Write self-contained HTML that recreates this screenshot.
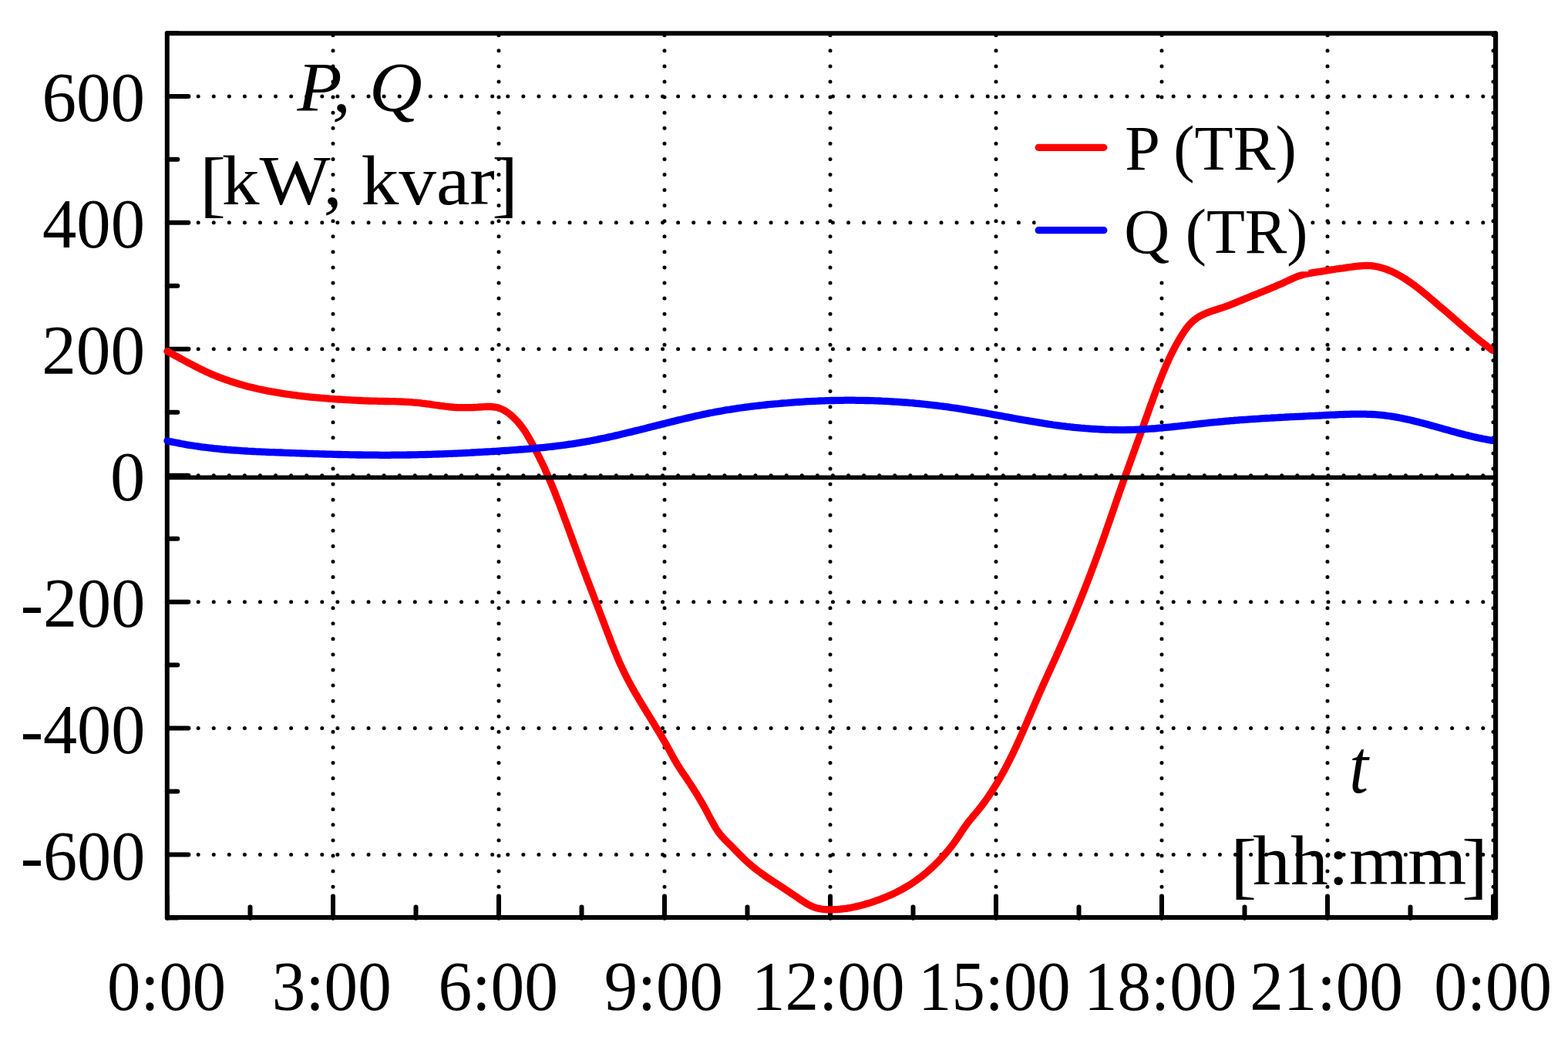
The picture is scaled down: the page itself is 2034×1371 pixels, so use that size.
<!DOCTYPE html>
<html lang="en"><head><meta charset="utf-8"><title>P, Q (TR) daily profile</title>
<style>html,body{margin:0;padding:0;background:#fff;overflow:hidden}svg{display:block}text{font-family:"Liberation Serif","DejaVu Serif",serif;fill:#000}</style>
</head><body>
<svg width="2034" height="1371" viewBox="0 0 2034 1371">
<rect x="0" y="0" width="2034" height="1371" fill="#fff"/>
<g stroke="#000" stroke-width="5.00" stroke-linecap="round" stroke-dasharray="0 20.08" fill="none">
<line x1="217.00" y1="124.88" x2="1936.00" y2="124.88"/>
<line x1="217.00" y1="288.82" x2="1936.00" y2="288.82"/>
<line x1="217.00" y1="452.76" x2="1936.00" y2="452.76"/>
<line x1="217.00" y1="616.70" x2="1936.00" y2="616.70"/>
<line x1="217.00" y1="780.64" x2="1936.00" y2="780.64"/>
<line x1="217.00" y1="944.58" x2="1936.00" y2="944.58"/>
<line x1="217.00" y1="1108.52" x2="1936.00" y2="1108.52"/>
<line x1="432.00" y1="1190.30" x2="432.00" y2="44.00"/>
<line x1="647.00" y1="1190.30" x2="647.00" y2="44.00"/>
<line x1="862.00" y1="1190.30" x2="862.00" y2="44.00"/>
<line x1="1077.00" y1="1190.30" x2="1077.00" y2="44.00"/>
<line x1="1292.01" y1="1190.30" x2="1292.01" y2="44.00"/>
<line x1="1507.01" y1="1190.30" x2="1507.01" y2="44.00"/>
<line x1="1722.01" y1="1190.30" x2="1722.01" y2="44.00"/>
<line x1="1937.01" y1="1190.30" x2="1937.01" y2="44.00"/>
</g>
<g stroke="#000" stroke-width="6.00" stroke-linecap="round" stroke-linejoin="round" fill="none">
<path d="M216.80 43.30 L1940.10 43.30 L1940.10 1190.10 L216.80 1190.10 Z"/>
<line x1="216.80" y1="1190.49" x2="230.30" y2="1190.49"/>
<line x1="216.80" y1="1108.52" x2="244.40" y2="1108.52"/>
<line x1="216.80" y1="1026.55" x2="230.30" y2="1026.55"/>
<line x1="216.80" y1="944.58" x2="244.40" y2="944.58"/>
<line x1="216.80" y1="862.61" x2="230.30" y2="862.61"/>
<line x1="216.80" y1="780.64" x2="244.40" y2="780.64"/>
<line x1="216.80" y1="698.67" x2="230.30" y2="698.67"/>
<line x1="216.80" y1="616.70" x2="244.40" y2="616.70"/>
<line x1="216.80" y1="534.73" x2="230.30" y2="534.73"/>
<line x1="216.80" y1="452.76" x2="244.40" y2="452.76"/>
<line x1="216.80" y1="370.79" x2="230.30" y2="370.79"/>
<line x1="216.80" y1="288.82" x2="244.40" y2="288.82"/>
<line x1="216.80" y1="206.85" x2="230.30" y2="206.85"/>
<line x1="216.80" y1="124.88" x2="244.40" y2="124.88"/>
<line x1="216.80" y1="42.91" x2="230.30" y2="42.91"/>
<line x1="217.00" y1="1190.70" x2="217.00" y2="1162.50"/>
<line x1="324.50" y1="1190.70" x2="324.50" y2="1176.60"/>
<line x1="432.00" y1="1190.70" x2="432.00" y2="1162.50"/>
<line x1="539.50" y1="1190.70" x2="539.50" y2="1176.60"/>
<line x1="647.00" y1="1190.70" x2="647.00" y2="1162.50"/>
<line x1="754.50" y1="1190.70" x2="754.50" y2="1176.60"/>
<line x1="862.00" y1="1190.70" x2="862.00" y2="1162.50"/>
<line x1="969.50" y1="1190.70" x2="969.50" y2="1176.60"/>
<line x1="1077.00" y1="1190.70" x2="1077.00" y2="1162.50"/>
<line x1="1184.50" y1="1190.70" x2="1184.50" y2="1176.60"/>
<line x1="1292.01" y1="1190.70" x2="1292.01" y2="1162.50"/>
<line x1="1399.51" y1="1190.70" x2="1399.51" y2="1176.60"/>
<line x1="1507.01" y1="1190.70" x2="1507.01" y2="1162.50"/>
<line x1="1614.51" y1="1190.70" x2="1614.51" y2="1176.60"/>
<line x1="1722.01" y1="1190.70" x2="1722.01" y2="1162.50"/>
<line x1="1829.51" y1="1190.70" x2="1829.51" y2="1176.60"/>
<line x1="1937.01" y1="1190.70" x2="1937.01" y2="1162.50"/>
</g>
<g fill="none" stroke-width="9.30" stroke-linecap="round" stroke-linejoin="round">
<path stroke="#ff0000" d="M217.0 455.7 L219.6 457.1 L222.1 458.5 L224.7 459.9 L227.3 461.3 L229.9 462.7 L232.6 464.1 L235.2 465.6 L237.8 467.0 L240.5 468.5 L243.1 469.9 L245.8 471.3 L248.5 472.7 L251.2 474.1 L253.9 475.5 L256.6 476.9 L259.3 478.2 L262.1 479.6 L264.8 480.9 L267.5 482.2 L270.3 483.4 L273.1 484.7 L275.8 485.9 L278.6 487.0 L281.4 488.2 L284.2 489.3 L287.0 490.3 L289.8 491.4 L292.6 492.4 L295.5 493.4 L298.3 494.4 L301.1 495.3 L304.0 496.2 L306.8 497.1 L309.7 497.9 L312.6 498.8 L315.4 499.6 L318.3 500.4 L321.2 501.2 L324.1 501.9 L327.0 502.6 L329.9 503.3 L332.8 504.0 L335.7 504.7 L338.6 505.3 L341.5 505.9 L344.5 506.5 L347.4 507.1 L350.3 507.6 L353.3 508.2 L356.2 508.7 L359.2 509.2 L362.1 509.7 L365.1 510.2 L368.1 510.7 L371.0 511.1 L374.0 511.5 L377.0 511.9 L379.9 512.3 L382.9 512.7 L385.9 513.1 L388.9 513.5 L391.8 513.8 L394.8 514.1 L397.8 514.5 L400.8 514.8 L403.8 515.1 L406.8 515.4 L409.8 515.7 L412.8 515.9 L415.8 516.2 L418.8 516.4 L421.8 516.7 L424.8 516.9 L427.8 517.2 L430.8 517.4 L433.8 517.6 L436.8 517.8 L439.8 518.0 L442.8 518.2 L445.8 518.4 L448.8 518.6 L451.8 518.7 L454.8 518.9 L457.8 519.1 L460.8 519.2 L463.8 519.4 L466.8 519.5 L469.8 519.6 L472.8 519.8 L475.8 519.9 L478.8 520.0 L481.8 520.1 L484.8 520.1 L487.8 520.2 L490.8 520.3 L493.8 520.4 L496.8 520.4 L499.8 520.5 L502.8 520.5 L505.8 520.6 L508.7 520.6 L511.7 520.7 L514.7 520.8 L517.7 520.9 L520.7 521.0 L523.7 521.1 L526.7 521.3 L529.6 521.4 L532.6 521.6 L535.6 521.9 L538.6 522.1 L541.5 522.4 L544.5 522.7 L547.5 523.1 L550.5 523.4 L553.4 523.8 L556.4 524.2 L559.4 524.7 L562.3 525.1 L565.3 525.5 L568.3 525.9 L571.3 526.3 L574.3 526.7 L577.2 527.1 L580.2 527.4 L583.2 527.8 L586.2 528.0 L589.2 528.3 L592.3 528.5 L595.3 528.6 L598.3 528.7 L601.4 528.7 L604.4 528.7 L607.4 528.7 L610.5 528.6 L613.5 528.5 L616.5 528.3 L619.5 528.2 L622.5 528.0 L625.5 527.8 L628.5 527.6 L631.4 527.5 L634.3 527.5 L637.2 527.5 L640.1 527.8 L642.9 528.2 L645.7 528.8 L648.5 529.7 L651.2 530.8 L653.9 532.2 L656.5 533.8 L659.0 535.5 L661.5 537.4 L663.9 539.4 L666.1 541.5 L668.3 543.7 L670.4 545.9 L672.4 548.1 L674.4 550.4 L676.2 552.8 L678.0 555.2 L679.7 557.6 L681.3 560.1 L682.9 562.5 L684.4 565.1 L685.9 567.6 L687.4 570.2 L688.8 572.8 L690.3 575.4 L691.7 578.0 L693.1 580.7 L694.5 583.3 L695.9 586.0 L697.3 588.7 L698.7 591.4 L700.0 594.2 L701.4 596.9 L702.7 599.6 L704.0 602.4 L705.3 605.1 L706.6 607.8 L707.8 610.6 L709.0 613.3 L710.2 616.1 L711.4 618.8 L712.6 621.6 L713.8 624.3 L715.0 627.1 L716.1 629.9 L717.2 632.6 L718.3 635.4 L719.5 638.2 L720.6 640.9 L721.6 643.7 L722.7 646.5 L723.8 649.3 L724.9 652.0 L725.9 654.8 L727.0 657.6 L728.0 660.4 L729.1 663.2 L730.1 666.0 L731.1 668.8 L732.2 671.6 L733.2 674.3 L734.3 677.1 L735.3 679.9 L736.3 682.7 L737.3 685.5 L738.4 688.3 L739.4 691.2 L740.4 694.0 L741.5 696.8 L742.5 699.6 L743.5 702.4 L744.5 705.2 L745.6 708.0 L746.6 710.8 L747.6 713.6 L748.7 716.5 L749.7 719.3 L750.8 722.1 L751.8 724.9 L752.8 727.7 L753.9 730.6 L754.9 733.4 L756.0 736.2 L757.1 739.1 L758.1 741.9 L759.2 744.7 L760.3 747.5 L761.3 750.4 L762.4 753.2 L763.5 756.0 L764.6 758.9 L765.6 761.7 L766.7 764.5 L767.8 767.3 L768.9 770.2 L770.0 773.0 L771.0 775.8 L772.1 778.7 L773.2 781.5 L774.3 784.3 L775.4 787.1 L776.5 789.9 L777.5 792.8 L778.6 795.6 L779.7 798.4 L780.8 801.2 L781.8 804.0 L782.9 806.8 L784.0 809.6 L785.0 812.4 L786.1 815.2 L787.1 818.0 L788.2 820.8 L789.3 823.5 L790.3 826.3 L791.4 829.1 L792.4 831.9 L793.5 834.6 L794.6 837.4 L795.7 840.1 L796.8 842.9 L797.9 845.6 L799.1 848.4 L800.2 851.1 L801.4 853.8 L802.5 856.6 L803.7 859.3 L804.9 862.0 L806.2 864.7 L807.4 867.4 L808.7 870.1 L810.0 872.7 L811.3 875.4 L812.7 878.1 L814.0 880.8 L815.4 883.4 L816.9 886.1 L818.3 888.7 L819.8 891.3 L821.2 894.0 L822.7 896.6 L824.2 899.2 L825.8 901.8 L827.3 904.4 L828.8 907.0 L830.4 909.6 L832.0 912.2 L833.5 914.8 L835.1 917.4 L836.7 920.0 L838.3 922.6 L839.9 925.2 L841.5 927.7 L843.0 930.3 L844.6 932.9 L846.2 935.5 L847.8 938.0 L849.4 940.6 L850.9 943.2 L852.5 945.8 L854.0 948.3 L855.6 950.9 L857.1 953.5 L858.6 956.0 L860.1 958.6 L861.6 961.2 L863.1 963.7 L864.5 966.3 L865.9 968.9 L867.4 971.5 L868.8 974.0 L870.2 976.6 L871.6 979.2 L873.0 981.8 L874.4 984.4 L875.9 986.9 L877.4 989.5 L879.0 992.1 L880.6 994.6 L882.2 997.2 L883.9 999.8 L885.6 1002.3 L887.4 1004.9 L889.1 1007.4 L890.8 1009.9 L892.5 1012.5 L894.2 1015.0 L895.9 1017.5 L897.5 1020.0 L899.1 1022.5 L900.7 1025.1 L902.3 1027.6 L903.9 1030.1 L905.4 1032.6 L906.9 1035.2 L908.4 1037.7 L909.9 1040.3 L911.4 1042.8 L912.8 1045.4 L914.3 1048.0 L915.7 1050.6 L917.1 1053.2 L918.5 1055.9 L919.9 1058.6 L921.3 1061.2 L922.8 1063.9 L924.2 1066.6 L925.7 1069.3 L927.2 1071.9 L928.7 1074.5 L930.4 1077.0 L932.1 1079.5 L933.9 1081.9 L935.8 1084.2 L937.8 1086.4 L939.8 1088.5 L941.9 1090.6 L944.0 1092.7 L946.1 1094.8 L948.3 1096.9 L950.4 1099.1 L952.5 1101.2 L954.5 1103.4 L956.6 1105.5 L958.7 1107.7 L960.9 1109.8 L963.0 1111.9 L965.1 1114.0 L967.3 1116.1 L969.5 1118.1 L971.7 1120.1 L974.0 1122.1 L976.3 1124.0 L978.6 1125.9 L981.0 1127.8 L983.4 1129.6 L985.8 1131.4 L988.2 1133.2 L990.7 1134.9 L993.1 1136.6 L995.6 1138.3 L998.1 1140.0 L1000.6 1141.6 L1003.1 1143.3 L1005.6 1144.9 L1008.1 1146.6 L1010.6 1148.2 L1013.1 1149.8 L1015.6 1151.5 L1018.1 1153.1 L1020.6 1154.8 L1023.0 1156.4 L1025.5 1158.1 L1028.0 1159.8 L1030.5 1161.5 L1033.0 1163.2 L1035.5 1164.9 L1038.0 1166.6 L1040.5 1168.3 L1043.1 1169.9 L1045.6 1171.6 L1048.3 1173.1 L1050.9 1174.5 L1053.7 1175.8 L1056.4 1176.9 L1059.2 1177.7 L1062.1 1178.4 L1065.0 1179.0 L1067.9 1179.4 L1070.9 1179.6 L1073.9 1179.8 L1076.8 1179.8 L1079.8 1179.8 L1082.8 1179.7 L1085.8 1179.6 L1088.8 1179.3 L1091.7 1179.0 L1094.7 1178.7 L1097.7 1178.3 L1100.6 1177.8 L1103.6 1177.3 L1106.6 1176.7 L1109.5 1176.1 L1112.5 1175.4 L1115.4 1174.7 L1118.3 1174.0 L1121.2 1173.2 L1124.1 1172.3 L1127.0 1171.5 L1129.9 1170.6 L1132.8 1169.6 L1135.6 1168.6 L1138.5 1167.6 L1141.3 1166.6 L1144.1 1165.5 L1146.9 1164.4 L1149.7 1163.3 L1152.5 1162.1 L1155.2 1160.9 L1157.9 1159.7 L1160.6 1158.4 L1163.3 1157.1 L1166.0 1155.7 L1168.6 1154.3 L1171.2 1152.9 L1173.8 1151.4 L1176.4 1149.9 L1178.9 1148.4 L1181.4 1146.8 L1183.9 1145.2 L1186.4 1143.5 L1188.8 1141.8 L1191.2 1140.0 L1193.6 1138.3 L1196.0 1136.4 L1198.3 1134.6 L1200.6 1132.7 L1202.9 1130.7 L1205.1 1128.7 L1207.4 1126.7 L1209.6 1124.7 L1211.8 1122.6 L1213.9 1120.5 L1216.1 1118.4 L1218.2 1116.2 L1220.3 1114.0 L1222.4 1111.8 L1224.4 1109.5 L1226.4 1107.2 L1228.4 1104.9 L1230.3 1102.6 L1232.2 1100.3 L1234.1 1097.9 L1235.9 1095.5 L1237.7 1093.1 L1239.4 1090.6 L1241.1 1088.2 L1242.8 1085.7 L1244.4 1083.3 L1246.1 1080.8 L1247.7 1078.3 L1249.3 1075.9 L1251.0 1073.4 L1252.7 1071.0 L1254.4 1068.6 L1256.2 1066.2 L1258.1 1063.9 L1260.0 1061.6 L1261.9 1059.3 L1263.8 1057.0 L1265.8 1054.7 L1267.7 1052.4 L1269.6 1050.1 L1271.4 1047.7 L1273.3 1045.4 L1275.1 1043.0 L1276.9 1040.5 L1278.6 1038.1 L1280.4 1035.6 L1282.1 1033.2 L1283.8 1030.7 L1285.5 1028.2 L1287.1 1025.6 L1288.7 1023.1 L1290.3 1020.6 L1291.9 1018.0 L1293.5 1015.4 L1295.0 1012.8 L1296.5 1010.3 L1298.0 1007.7 L1299.5 1005.0 L1300.9 1002.4 L1302.4 999.8 L1303.8 997.2 L1305.2 994.5 L1306.6 991.9 L1307.9 989.2 L1309.3 986.5 L1310.6 983.9 L1312.0 981.2 L1313.3 978.5 L1314.6 975.8 L1315.8 973.1 L1317.1 970.4 L1318.4 967.7 L1319.6 965.0 L1320.9 962.3 L1322.1 959.6 L1323.3 956.8 L1324.6 954.1 L1325.8 951.4 L1327.0 948.6 L1328.2 945.9 L1329.4 943.2 L1330.6 940.4 L1331.8 937.7 L1332.9 934.9 L1334.1 932.2 L1335.3 929.4 L1336.5 926.6 L1337.7 923.9 L1338.9 921.1 L1340.0 918.4 L1341.2 915.6 L1342.4 912.9 L1343.6 910.1 L1344.8 907.3 L1346.0 904.6 L1347.2 901.8 L1348.4 899.1 L1349.6 896.3 L1350.9 893.6 L1352.1 890.8 L1353.3 888.1 L1354.6 885.3 L1355.8 882.6 L1357.1 879.8 L1358.3 877.1 L1359.6 874.3 L1360.8 871.6 L1362.1 868.9 L1363.3 866.1 L1364.6 863.4 L1365.8 860.6 L1367.1 857.9 L1368.3 855.1 L1369.6 852.4 L1370.8 849.7 L1372.0 846.9 L1373.3 844.2 L1374.5 841.4 L1375.7 838.7 L1376.9 835.9 L1378.1 833.2 L1379.4 830.5 L1380.6 827.7 L1381.8 825.0 L1382.9 822.2 L1384.1 819.5 L1385.3 816.7 L1386.5 814.0 L1387.7 811.2 L1388.8 808.5 L1390.0 805.7 L1391.2 803.0 L1392.3 800.2 L1393.5 797.4 L1394.6 794.7 L1395.7 791.9 L1396.9 789.2 L1398.0 786.4 L1399.1 783.6 L1400.3 780.8 L1401.4 778.1 L1402.5 775.3 L1403.6 772.5 L1404.7 769.7 L1405.8 767.0 L1406.9 764.2 L1408.0 761.4 L1409.1 758.6 L1410.2 755.8 L1411.2 753.0 L1412.3 750.2 L1413.4 747.4 L1414.5 744.6 L1415.5 741.8 L1416.6 739.0 L1417.6 736.2 L1418.7 733.4 L1419.7 730.6 L1420.8 727.8 L1421.8 725.0 L1422.8 722.2 L1423.9 719.3 L1424.9 716.5 L1425.9 713.7 L1426.9 710.9 L1428.0 708.1 L1429.0 705.3 L1430.0 702.4 L1431.0 699.6 L1432.0 696.8 L1433.0 694.0 L1434.0 691.1 L1434.9 688.3 L1435.9 685.5 L1436.9 682.6 L1437.9 679.8 L1438.9 677.0 L1439.9 674.2 L1440.8 671.3 L1441.8 668.5 L1442.8 665.7 L1443.8 662.8 L1444.8 660.0 L1445.7 657.2 L1446.7 654.3 L1447.7 651.5 L1448.7 648.6 L1449.7 645.8 L1450.6 643.0 L1451.6 640.1 L1452.6 637.3 L1453.6 634.5 L1454.6 631.6 L1455.6 628.8 L1456.6 626.0 L1457.6 623.1 L1458.6 620.3 L1459.6 617.4 L1460.6 614.6 L1461.7 611.8 L1462.7 608.9 L1463.7 606.1 L1464.7 603.3 L1465.7 600.4 L1466.8 597.6 L1467.8 594.8 L1468.8 591.9 L1469.8 589.1 L1470.9 586.3 L1471.9 583.4 L1472.9 580.6 L1473.9 577.8 L1475.0 574.9 L1476.0 572.1 L1477.0 569.3 L1478.0 566.5 L1479.1 563.6 L1480.1 560.8 L1481.1 558.0 L1482.1 555.2 L1483.1 552.3 L1484.1 549.5 L1485.1 546.7 L1486.1 543.9 L1487.1 541.1 L1488.1 538.3 L1489.1 535.4 L1490.1 532.6 L1491.1 529.8 L1492.1 527.0 L1493.1 524.2 L1494.2 521.4 L1495.2 518.6 L1496.2 515.8 L1497.2 513.0 L1498.3 510.2 L1499.3 507.4 L1500.4 504.6 L1501.4 501.8 L1502.5 499.0 L1503.6 496.3 L1504.7 493.5 L1505.8 490.7 L1506.9 487.9 L1508.0 485.1 L1509.1 482.4 L1510.3 479.6 L1511.5 476.8 L1512.6 474.1 L1513.9 471.3 L1515.1 468.6 L1516.3 465.8 L1517.6 463.1 L1518.9 460.4 L1520.2 457.7 L1521.6 455.0 L1523.0 452.3 L1524.4 449.6 L1525.8 447.0 L1527.3 444.4 L1528.8 441.8 L1530.3 439.2 L1531.9 436.6 L1533.5 434.0 L1535.1 431.5 L1536.8 429.0 L1538.6 426.5 L1540.4 424.1 L1542.3 421.8 L1544.3 419.6 L1546.4 417.5 L1548.6 415.5 L1551.0 413.7 L1553.4 412.0 L1556.0 410.4 L1558.6 409.0 L1561.3 407.7 L1564.0 406.5 L1566.7 405.4 L1569.4 404.4 L1572.2 403.4 L1575.0 402.5 L1577.8 401.6 L1580.6 400.7 L1583.4 399.8 L1586.2 398.9 L1589.1 397.9 L1591.9 396.9 L1594.8 395.8 L1597.6 394.7 L1600.4 393.6 L1603.3 392.4 L1606.1 391.2 L1608.9 390.1 L1611.8 388.9 L1614.6 387.7 L1617.4 386.6 L1620.2 385.4 L1622.9 384.3 L1625.7 383.2 L1628.5 382.1 L1631.2 381.0 L1634.0 379.8 L1636.7 378.7 L1639.4 377.6 L1642.2 376.5 L1644.9 375.4 L1647.6 374.3 L1650.4 373.1 L1653.1 372.0 L1655.8 370.8 L1658.6 369.6 L1661.3 368.4 L1664.1 367.2 L1666.8 365.9 L1669.6 364.6 L1672.4 363.3 L1675.2 362.0 L1678.0 360.7 L1680.8 359.5 L1683.6 358.4 L1686.5 357.5 L1689.3 356.6 L1692.2 355.8 L1695.0 355.2 L1697.9 354.6 L1700.8 354.1 L1703.7 353.6 L1706.6 353.2 L1709.5 352.7 L1712.4 352.3 L1715.4 351.8 L1718.3 351.3 L1721.3 350.8 L1724.2 350.4 L1727.2 349.9 L1730.2 349.5 L1733.2 349.0 L1736.2 348.6 L1739.2 348.2 L1742.2 347.8 L1745.2 347.3 L1748.2 346.9 L1751.3 346.5 L1754.3 346.1 L1757.3 345.7 L1760.3 345.3 L1763.3 345.0 L1766.3 344.8 L1769.3 344.6 L1772.3 344.5 L1775.2 344.6 L1778.2 344.7 L1781.1 345.0 L1784.0 345.5 L1786.9 346.0 L1789.8 346.7 L1792.7 347.5 L1795.6 348.4 L1798.4 349.3 L1801.2 350.4 L1804.0 351.6 L1806.7 352.8 L1809.5 354.2 L1812.2 355.6 L1814.8 357.0 L1817.5 358.5 L1820.1 360.1 L1822.7 361.7 L1825.2 363.4 L1827.7 365.1 L1830.2 366.8 L1832.6 368.5 L1835.0 370.3 L1837.4 372.1 L1839.7 373.9 L1842.0 375.7 L1844.3 377.6 L1846.6 379.4 L1848.8 381.3 L1851.1 383.2 L1853.3 385.1 L1855.6 387.0 L1857.9 388.9 L1860.1 390.8 L1862.4 392.8 L1864.7 394.7 L1867.0 396.7 L1869.3 398.7 L1871.6 400.6 L1873.9 402.6 L1876.2 404.6 L1878.5 406.6 L1880.9 408.6 L1883.2 410.5 L1885.4 412.5 L1887.7 414.5 L1890.0 416.5 L1892.3 418.5 L1894.6 420.5 L1896.8 422.5 L1899.1 424.4 L1901.3 426.4 L1903.6 428.3 L1905.9 430.3 L1908.2 432.2 L1910.4 434.2 L1912.7 436.1 L1915.0 438.0 L1917.3 439.9 L1919.7 441.8 L1922.0 443.6 L1924.3 445.5 L1926.7 447.3 L1929.1 449.1 L1931.5 450.9 L1933.9 452.7 L1936.0 454.3"/>
<path stroke="#0000ff" d="M217.0 571.8 L220.0 572.5 L223.0 573.1 L226.0 573.7 L229.0 574.3 L232.0 574.9 L235.0 575.5 L238.0 576.0 L241.0 576.6 L244.0 577.1 L247.0 577.6 L250.0 578.0 L253.0 578.5 L256.0 578.9 L259.0 579.3 L262.0 579.8 L265.0 580.1 L268.0 580.5 L271.0 580.9 L274.0 581.2 L277.0 581.6 L280.0 581.9 L283.0 582.2 L286.0 582.5 L289.0 582.8 L292.0 583.0 L295.0 583.3 L298.0 583.5 L301.0 583.8 L304.0 584.0 L307.0 584.2 L310.0 584.4 L313.0 584.6 L316.0 584.8 L319.0 585.0 L322.0 585.2 L325.0 585.3 L328.0 585.5 L331.0 585.7 L334.0 585.8 L337.0 585.9 L340.0 586.1 L343.0 586.2 L346.0 586.3 L349.0 586.5 L352.0 586.6 L355.0 586.7 L358.0 586.8 L361.0 586.9 L364.0 587.0 L367.0 587.1 L370.0 587.3 L373.0 587.4 L376.0 587.5 L379.0 587.6 L382.0 587.7 L385.0 587.8 L388.0 587.9 L391.0 588.0 L394.0 588.1 L397.0 588.2 L400.0 588.3 L403.0 588.4 L406.0 588.5 L409.0 588.6 L412.0 588.7 L415.0 588.8 L418.0 588.9 L421.0 589.0 L424.0 589.1 L427.0 589.1 L430.0 589.2 L433.0 589.3 L436.0 589.4 L439.0 589.5 L442.0 589.5 L445.0 589.6 L448.0 589.7 L451.0 589.7 L454.0 589.8 L457.0 589.9 L460.0 589.9 L463.0 590.0 L466.0 590.0 L469.0 590.0 L472.0 590.1 L475.0 590.1 L478.0 590.2 L481.0 590.2 L484.0 590.2 L487.0 590.2 L490.0 590.2 L493.0 590.3 L496.0 590.3 L499.0 590.3 L502.0 590.3 L505.0 590.3 L508.0 590.2 L511.0 590.2 L514.0 590.2 L517.0 590.2 L520.0 590.1 L523.0 590.1 L526.0 590.1 L529.0 590.0 L532.0 590.0 L535.0 589.9 L538.0 589.8 L541.0 589.8 L544.0 589.7 L547.0 589.6 L550.0 589.6 L553.0 589.5 L556.0 589.4 L559.0 589.3 L562.0 589.2 L565.0 589.1 L568.0 589.0 L571.0 588.9 L574.0 588.8 L577.0 588.7 L580.0 588.6 L583.0 588.4 L586.0 588.3 L589.0 588.2 L592.0 588.1 L595.0 587.9 L598.0 587.8 L601.0 587.6 L604.0 587.5 L607.0 587.3 L610.0 587.2 L613.0 587.0 L616.0 586.9 L619.0 586.7 L622.0 586.5 L625.0 586.4 L628.0 586.2 L631.0 586.0 L634.0 585.8 L637.0 585.7 L640.0 585.5 L643.0 585.3 L646.0 585.1 L649.0 584.9 L652.0 584.7 L655.0 584.5 L658.0 584.3 L661.0 584.1 L664.0 583.9 L667.0 583.7 L670.0 583.5 L673.0 583.2 L676.0 583.0 L679.0 582.8 L682.0 582.5 L685.0 582.3 L688.0 582.0 L691.0 581.7 L694.0 581.5 L697.0 581.2 L700.0 580.9 L703.0 580.6 L706.0 580.3 L709.0 580.0 L712.0 579.6 L715.0 579.3 L718.0 579.0 L721.0 578.6 L724.0 578.2 L727.0 577.9 L730.0 577.5 L733.0 577.1 L736.0 576.7 L739.0 576.2 L742.0 575.8 L745.0 575.3 L748.0 574.9 L751.0 574.4 L754.0 573.9 L757.0 573.4 L760.0 572.9 L763.0 572.3 L766.0 571.8 L769.0 571.2 L772.0 570.6 L775.0 570.1 L778.0 569.4 L781.0 568.8 L784.0 568.2 L787.0 567.6 L790.0 566.9 L793.0 566.2 L796.0 565.6 L799.0 564.9 L802.0 564.2 L805.0 563.5 L808.0 562.8 L811.0 562.1 L814.0 561.3 L817.0 560.6 L820.0 559.9 L823.0 559.1 L826.0 558.4 L829.0 557.7 L832.0 556.9 L835.0 556.2 L838.0 555.4 L841.0 554.6 L844.0 553.9 L847.0 553.1 L850.0 552.4 L853.0 551.6 L856.0 550.9 L859.0 550.1 L862.0 549.4 L865.0 548.6 L868.0 547.9 L871.0 547.1 L874.0 546.4 L877.0 545.6 L880.0 544.9 L883.0 544.2 L886.0 543.5 L889.0 542.8 L892.0 542.1 L895.0 541.4 L898.0 540.7 L901.0 540.0 L904.0 539.3 L907.0 538.7 L910.0 538.0 L913.0 537.4 L916.0 536.8 L919.0 536.1 L922.0 535.5 L925.0 535.0 L928.0 534.4 L931.0 533.8 L934.0 533.3 L937.0 532.8 L940.0 532.2 L943.0 531.7 L946.0 531.3 L949.0 530.8 L952.0 530.3 L955.0 529.9 L958.0 529.4 L961.0 529.0 L964.0 528.6 L967.0 528.2 L970.0 527.8 L973.0 527.4 L976.0 527.0 L979.0 526.7 L982.0 526.3 L985.0 526.0 L988.0 525.7 L991.0 525.3 L994.0 525.0 L997.0 524.7 L1000.0 524.4 L1003.0 524.1 L1006.0 523.8 L1009.0 523.6 L1012.0 523.3 L1015.0 523.0 L1018.0 522.8 L1021.0 522.6 L1024.0 522.3 L1027.0 522.1 L1030.0 521.9 L1033.0 521.7 L1036.0 521.5 L1039.0 521.3 L1042.0 521.1 L1045.0 520.9 L1048.0 520.7 L1051.0 520.6 L1054.0 520.4 L1057.0 520.3 L1060.0 520.2 L1063.0 520.0 L1066.0 519.9 L1069.0 519.8 L1072.0 519.7 L1075.0 519.6 L1078.0 519.5 L1081.0 519.5 L1084.0 519.4 L1087.0 519.3 L1090.0 519.3 L1093.0 519.3 L1096.0 519.2 L1099.0 519.2 L1102.0 519.2 L1105.0 519.2 L1108.0 519.2 L1111.0 519.3 L1114.0 519.3 L1117.0 519.3 L1120.0 519.4 L1123.0 519.5 L1126.0 519.5 L1129.0 519.6 L1132.0 519.7 L1135.0 519.8 L1138.0 519.9 L1141.0 520.0 L1144.0 520.2 L1147.0 520.3 L1150.0 520.4 L1153.0 520.6 L1156.0 520.8 L1159.0 521.0 L1162.0 521.1 L1165.0 521.3 L1168.0 521.5 L1171.0 521.8 L1174.0 522.0 L1177.0 522.2 L1180.0 522.5 L1183.0 522.7 L1186.0 523.0 L1189.0 523.3 L1192.0 523.5 L1195.0 523.8 L1198.0 524.1 L1201.0 524.5 L1204.0 524.8 L1207.0 525.1 L1210.0 525.5 L1213.0 525.8 L1216.0 526.2 L1219.0 526.6 L1222.0 526.9 L1225.0 527.3 L1228.0 527.7 L1231.0 528.1 L1234.0 528.6 L1237.0 529.0 L1240.0 529.4 L1243.0 529.9 L1246.0 530.3 L1249.0 530.8 L1252.0 531.3 L1255.0 531.8 L1258.0 532.3 L1261.0 532.8 L1264.0 533.3 L1267.0 533.8 L1270.0 534.3 L1273.0 534.9 L1276.0 535.4 L1279.0 535.9 L1282.0 536.5 L1285.0 537.0 L1288.0 537.6 L1291.0 538.1 L1294.0 538.6 L1297.0 539.2 L1300.0 539.7 L1303.0 540.3 L1306.0 540.8 L1309.0 541.4 L1312.0 541.9 L1315.0 542.5 L1318.0 543.0 L1321.0 543.6 L1324.0 544.1 L1327.0 544.6 L1330.0 545.2 L1333.0 545.7 L1336.0 546.2 L1339.0 546.7 L1342.0 547.2 L1345.0 547.7 L1348.0 548.2 L1351.0 548.7 L1354.0 549.2 L1357.0 549.6 L1360.0 550.1 L1363.0 550.5 L1366.0 551.0 L1369.0 551.4 L1372.0 551.8 L1375.0 552.2 L1378.0 552.6 L1381.0 552.9 L1384.0 553.3 L1387.0 553.6 L1390.0 554.0 L1393.0 554.3 L1396.0 554.6 L1399.0 554.9 L1402.0 555.2 L1405.0 555.4 L1408.0 555.7 L1411.0 555.9 L1414.0 556.1 L1417.0 556.3 L1420.0 556.5 L1423.0 556.7 L1426.0 556.9 L1429.0 557.0 L1432.0 557.1 L1435.0 557.3 L1438.0 557.4 L1441.0 557.4 L1444.0 557.5 L1447.0 557.5 L1450.0 557.6 L1453.0 557.6 L1456.0 557.6 L1459.0 557.6 L1462.0 557.5 L1465.0 557.5 L1468.0 557.4 L1471.0 557.3 L1474.0 557.2 L1477.0 557.1 L1480.0 556.9 L1483.0 556.8 L1486.0 556.6 L1489.0 556.4 L1492.0 556.2 L1495.0 556.0 L1498.0 555.8 L1501.0 555.5 L1504.0 555.2 L1507.0 555.0 L1510.0 554.7 L1513.0 554.4 L1516.0 554.1 L1519.0 553.8 L1522.0 553.5 L1525.0 553.2 L1528.0 552.9 L1531.0 552.5 L1534.0 552.2 L1537.0 551.9 L1540.0 551.5 L1543.0 551.2 L1546.0 550.9 L1549.0 550.5 L1552.0 550.2 L1555.0 549.8 L1558.0 549.5 L1561.0 549.2 L1564.0 548.9 L1567.0 548.5 L1570.0 548.2 L1573.0 547.9 L1576.0 547.6 L1579.0 547.3 L1582.0 547.0 L1585.0 546.8 L1588.0 546.5 L1591.0 546.2 L1594.0 546.0 L1597.0 545.7 L1600.0 545.5 L1603.0 545.2 L1606.0 545.0 L1609.0 544.7 L1612.0 544.5 L1615.0 544.3 L1618.0 544.1 L1621.0 543.9 L1624.0 543.7 L1627.0 543.5 L1630.0 543.3 L1633.0 543.1 L1636.0 542.9 L1639.0 542.7 L1642.0 542.5 L1645.0 542.3 L1648.0 542.2 L1651.0 542.0 L1654.0 541.8 L1657.0 541.7 L1660.0 541.5 L1663.0 541.3 L1666.0 541.2 L1669.0 541.0 L1672.0 540.9 L1675.0 540.7 L1678.0 540.6 L1681.0 540.4 L1684.0 540.3 L1687.0 540.1 L1690.0 540.0 L1693.0 539.8 L1696.0 539.7 L1699.0 539.5 L1702.0 539.4 L1705.0 539.3 L1708.0 539.1 L1711.0 539.0 L1714.0 538.8 L1717.0 538.7 L1720.0 538.5 L1723.0 538.4 L1726.0 538.2 L1729.0 538.1 L1732.0 538.0 L1735.0 537.8 L1738.0 537.7 L1741.0 537.6 L1744.0 537.5 L1747.0 537.4 L1750.0 537.3 L1753.0 537.2 L1756.0 537.1 L1759.0 537.1 L1762.0 537.1 L1765.0 537.1 L1768.0 537.1 L1771.0 537.2 L1774.0 537.3 L1777.0 537.4 L1780.0 537.5 L1783.0 537.7 L1786.0 537.9 L1789.0 538.1 L1792.0 538.4 L1795.0 538.7 L1798.0 539.1 L1801.0 539.5 L1804.0 539.9 L1807.0 540.4 L1810.0 540.9 L1813.0 541.4 L1816.0 542.0 L1819.0 542.6 L1822.0 543.2 L1825.0 543.9 L1828.0 544.5 L1831.0 545.2 L1834.0 545.9 L1837.0 546.7 L1840.0 547.4 L1843.0 548.2 L1846.0 549.0 L1849.0 549.8 L1852.0 550.6 L1855.0 551.4 L1858.0 552.2 L1861.0 553.1 L1864.0 553.9 L1867.0 554.8 L1870.0 555.6 L1873.0 556.5 L1876.0 557.3 L1879.0 558.1 L1882.0 559.0 L1885.0 559.8 L1888.0 560.6 L1891.0 561.4 L1894.0 562.2 L1897.0 563.0 L1900.0 563.8 L1903.0 564.5 L1906.0 565.3 L1909.0 566.0 L1912.0 566.7 L1915.0 567.4 L1918.0 568.0 L1921.0 568.6 L1924.0 569.2 L1927.0 569.8 L1930.0 570.4 L1933.0 570.9 L1936.0 571.3 L1937.0 571.5"/>
</g>
<rect x="1343.5" y="137.6" width="353.7" height="214.6" fill="#fff"/>
<g fill="none" stroke-width="9.30" stroke-linecap="round">
<line x1="1347.2" y1="191.3" x2="1431.8" y2="191.3" stroke="#ff0000"/>
<line x1="1347.2" y1="298.7" x2="1431.8" y2="298.7" stroke="#0000ff"/>
</g>
<line x1="216.80" y1="619.40" x2="1940.10" y2="619.40" stroke="#000" stroke-width="5.60"/>
<line x1="1940.10" y1="43.30" x2="1940.10" y2="1190.10" stroke="#000" stroke-width="6.00" stroke-linecap="round"/>
<text transform="matrix(0.8908 0 0 0.9104 54.44 156.97)" font-size="100">600</text>
<text transform="matrix(0.8868 0 0 0.9104 55.03 320.91)" font-size="100">400</text>
<text transform="matrix(0.8930 0 0 0.9104 54.13 484.85)" font-size="100">200</text>
<text transform="matrix(0.9047 0 0 0.9104 142.88 648.79)" font-size="100">0</text>
<text transform="matrix(0.8818 0 0 0.9104 26.67 812.73)" font-size="100">-200</text>
<text transform="matrix(0.8818 0 0 0.9104 26.67 976.67)" font-size="100">-400</text>
<text transform="matrix(0.8818 0 0 0.9104 26.67 1140.61)" font-size="100">-600</text>
<text transform="matrix(0.8659 0 0 0.9074 139.12 1310.19)" font-size="100">0:00</text>
<text transform="matrix(0.8711 0 0 0.9074 352.84 1310.19)" font-size="100">3:00</text>
<text transform="matrix(0.8741 0 0 0.9074 568.61 1310.19)" font-size="100">6:00</text>
<text transform="matrix(0.8666 0 0 0.9074 783.71 1310.19)" font-size="100">9:00</text>
<text transform="matrix(0.8721 0 0 0.9074 974.94 1310.19)" font-size="100">12:00</text>
<text transform="matrix(0.8675 0 0 0.9074 1191.08 1310.19)" font-size="100">15:00</text>
<text transform="matrix(0.8698 0 0 0.9074 1406.06 1310.19)" font-size="100">18:00</text>
<text transform="matrix(0.8727 0 0 0.9074 1621.22 1310.19)" font-size="100">21:00</text>
<text transform="matrix(0.8589 0 0 0.9074 1860.25 1310.19)" font-size="100">0:00</text>
<text transform="matrix(0.9520 0 0 0.9180 385.43 143.75)" font-size="100" font-style="italic">P, Q</text>
<text transform="matrix(0.9761 0 0 0.9050 0 264.60)" font-size="100"><tspan x="265.18" dy="5.70" font-size="105.60">[</tspan><tspan x="294.69" dy="-5.70" font-size="100.00">kW, kvar</tspan><tspan x="653.62" dy="5.70" font-size="105.60">]</tspan></text>
<text transform="matrix(0.8921 0 0 0.9959 1750.13 1028.30)" font-size="100" font-style="italic">t</text>
<text transform="matrix(0.9787 0 0 0.9050 0 1147.10)" font-size="100"><tspan x="1630.84" dy="7.45" font-size="104.93">[</tspan><tspan x="1660.32" dy="-7.45" font-size="100.00">hh:mm</tspan><tspan x="1937.28" dy="7.45" font-size="104.93">]</tspan></text>
<text transform="matrix(0.8208 0 0 0.8300 1459.14 220.30)" font-size="100">P (TR)</text>
<text transform="matrix(0.8171 0 0 0.8300 1458.33 327.60)" font-size="100">Q (TR)</text>
</svg></body></html>
